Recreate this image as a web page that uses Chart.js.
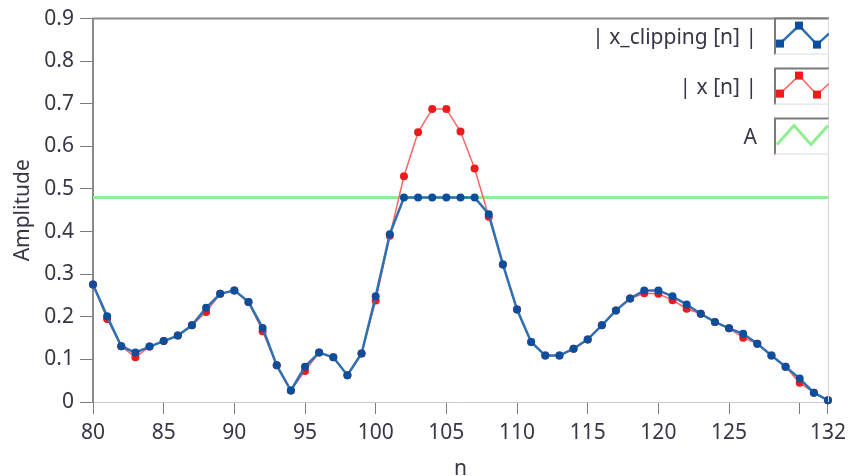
<!DOCTYPE html>
<html>
<head>
<meta charset="utf-8">
<script src="https://cdn.jsdelivr.net/npm/chart.js@4"></script>
<style>
  html, body { margin: 0; padding: 0; background: #fff; }
  #wrap { width: 852px; height: 476px; position: relative; }
</style>
</head>
<body>
<div id="wrap"><canvas id="graph"></canvas></div>
<script>
// sample index n
const n = [80, 81, 82, 83, 84, 85, 86, 87, 88, 89, 90, 91, 92, 93, 94, 95, 96, 97, 98, 99,
  100, 101, 102, 103, 104, 105, 106, 107, 108, 109, 110, 111, 112, 113, 114, 115, 116, 117, 118, 119,
  120, 121, 122, 123, 124, 125, 126, 127, 128, 129, 130, 131, 132]

// |x_clipping[n]|
const clipped = [0.276, 0.201, 0.131, 0.116, 0.130, 0.143, 0.156, 0.180, 0.221, 0.254,
  0.262, 0.235, 0.174, 0.086, 0.027, 0.083, 0.116, 0.105, 0.063, 0.114,
  0.248, 0.394, 0.480, 0.480, 0.480, 0.480, 0.480, 0.480, 0.441, 0.323,
  0.217, 0.141, 0.109, 0.109, 0.125, 0.147, 0.180, 0.215, 0.243, 0.262,
  0.262, 0.248, 0.229, 0.207, 0.188, 0.173, 0.160, 0.137, 0.109, 0.083,
  0.055, 0.022, 0.004]

// |x[n]|
const original = [0.276, 0.195, 0.131, 0.105, 0.130, 0.143, 0.156, 0.180, 0.211, 0.254,
  0.262, 0.235, 0.166, 0.086, 0.027, 0.073, 0.116, 0.105, 0.063, 0.114,
  0.238, 0.390, 0.530, 0.633, 0.688, 0.688, 0.635, 0.548, 0.435, 0.323,
  0.217, 0.141, 0.109, 0.109, 0.125, 0.147, 0.180, 0.215, 0.243, 0.255,
  0.254, 0.239, 0.219, 0.207, 0.188, 0.173, 0.151, 0.137, 0.109, 0.083,
  0.045, 0.022, 0.004]

// clipping level A
const A = 0.48

const xTicks = [80, 85, 90, 95, 100, 105, 110, 115, 120, 125, 130, 132]
const xTickLabels = ['80', '85', '90', '95', '100', '105', '110', '115', '120', '125', '', '132']

const FONT = '"Noto Sans", "Open Sans", sans-serif'
const TEXT = '#363644'

const pts = (ys) => n.map((v, i) => ({ x: v, y: ys[i] }))

// draws the plot frame and the LabVIEW style plot legend on the right
const frame = {
  id: 'frame',
  afterDraw(chart) {
    const { ctx, chartArea: a } = chart
    ctx.save()
    ctx.lineWidth = 2
    ctx.strokeStyle = '#8a8a8a'
    ctx.beginPath()
    ctx.moveTo(a.left - 1, a.top)
    ctx.lineTo(a.right + 1, a.top)
    ctx.stroke()
    ctx.lineWidth = 1
    ctx.strokeStyle = '#d4d4d4'
    ctx.beginPath()
    ctx.moveTo(a.right + 0.5, a.top)
    ctx.lineTo(a.right + 0.5, a.bottom)
    ctx.stroke()

    const boxW = 54, boxH = 36, rowH = 50
    const bx = a.right - boxW + 1
    chart.data.datasets.forEach((ds, i) => {
      const by = a.top + i * rowH
      ctx.fillStyle = '#fff'
      ctx.fillRect(bx, by, boxW, boxH)
      // sunken box
      ctx.lineWidth = 2
      ctx.strokeStyle = '#7a7a7a'
      ctx.beginPath()
      ctx.moveTo(bx, by + boxH)
      ctx.lineTo(bx, by)
      ctx.lineTo(bx + boxW, by)
      ctx.stroke()
      ctx.lineWidth = 1
      ctx.strokeStyle = '#dcdcdc'
      ctx.beginPath()
      ctx.moveTo(bx + boxW - 0.5, by)
      ctx.lineTo(bx + boxW - 0.5, by + boxH - 0.5)
      ctx.lineTo(bx, by + boxH - 0.5)
      ctx.stroke()

      const sx = ds.pointRadius ? [5, 24, 42, 54] : [2, 19, 36, 53]
      const sy = ds.pointRadius ? [25, 7, 26, 15] : [26, 7, 26, 7]
      ctx.save()
      ctx.beginPath()
      ctx.rect(bx + 1, by + 1, boxW - 1, boxH - 1)
      ctx.clip()
      ctx.strokeStyle = ds.borderColor
      ctx.lineWidth = ds.borderWidth
      ctx.beginPath()
      sx.forEach((x, k) => k ? ctx.lineTo(bx + x, by + sy[k]) : ctx.moveTo(bx + x, by + sy[k]))
      ctx.stroke()
      if (ds.pointRadius) {
        ctx.fillStyle = ds.pointBackgroundColor
        for (let k = 0; k < 3; k++) {
          ctx.fillRect(bx + sx[k] - 4, by + sy[k] - 4, 8, 8)
        }
      }
      ctx.restore()

      ctx.fillStyle = TEXT
      ctx.font = '21px ' + FONT
      ctx.textAlign = 'right'
      ctx.textBaseline = 'middle'
      ctx.fillText(ds.label, bx - 18, by + boxH / 2 + 1)
    })
    ctx.restore()
  }
}

new Chart(document.getElementById('graph'), {
  type: 'line',
  data: {
    datasets: [{
      label: '| x_clipping [n] |',
      data: pts(clipped),
      borderColor: '#2f6fb2',
      borderWidth: 2.5,
      pointRadius: 4,
      pointBackgroundColor: '#0b4f9c',
      pointBorderWidth: 0,
      tension: 0,
      clip: 8
    }, {
      label: '| x [n] |',
      data: pts(original),
      borderColor: '#ff6464',
      borderWidth: 1.5,
      pointRadius: 4,
      pointBackgroundColor: '#ec1c1c',
      pointBorderWidth: 0,
      tension: 0,
      clip: 8
    }, {
      label: 'A',
      data: [{ x: n[0], y: A }, { x: n[n.length - 1], y: A }],
      borderColor: '#8ff08f',
      borderWidth: 3,
      pointRadius: 0,
      tension: 0
    }]
  },
  options: {
    responsive: true,
    maintainAspectRatio: false,
    animation: false,
    layout: { padding: { top: 17, right: 21, left: 0, bottom: 0 } },
    plugins: { legend: { display: false }, tooltip: { enabled: false } },
    scales: {
      x: {
        type: 'linear',
        min: 80,
        max: 132,
        afterFit: (s) => { s.height = 74 },
        afterBuildTicks: (s) => { s.ticks = xTicks.map(v => ({ value: v })) },
        grid: { drawOnChartArea: false, tickLength: 12, color: '#7c7c7c' },
        border: { color: '#c9c9c9', width: 1 },
        ticks: {
          autoSkip: false,
          maxRotation: 0,
          padding: 6,
          color: TEXT,
          font: { family: FONT, size: 21 },
          callback: (v) => xTickLabels[xTicks.indexOf(v)]
        },
        title: {
          display: true,
          text: 'n',
          color: TEXT,
          font: { family: FONT, size: 21, lineHeight: 0.7 },
          padding: { top: 0, bottom: 0 }
        }
      },
      y: {
        min: 0,
        max: 0.9,
        afterFit: (s) => { s.width = 93 },
        grid: { drawOnChartArea: false, tickLength: 13, color: '#7c7c7c' },
        border: { color: '#8a8a8a', width: 2 },
        ticks: {
          stepSize: 0.1,
          padding: 6,
          color: TEXT,
          font: { family: FONT, size: 21 },
          callback: (v) => v === 0 ? '0' : v.toFixed(1)
        },
        title: {
          display: true,
          text: 'Amplitude',
          color: TEXT,
          font: { family: FONT, size: 21 },
          padding: { top: 10, bottom: 0 }
        }
      }
    }
  },
  plugins: [frame]
})
</script>
</body>
</html>
